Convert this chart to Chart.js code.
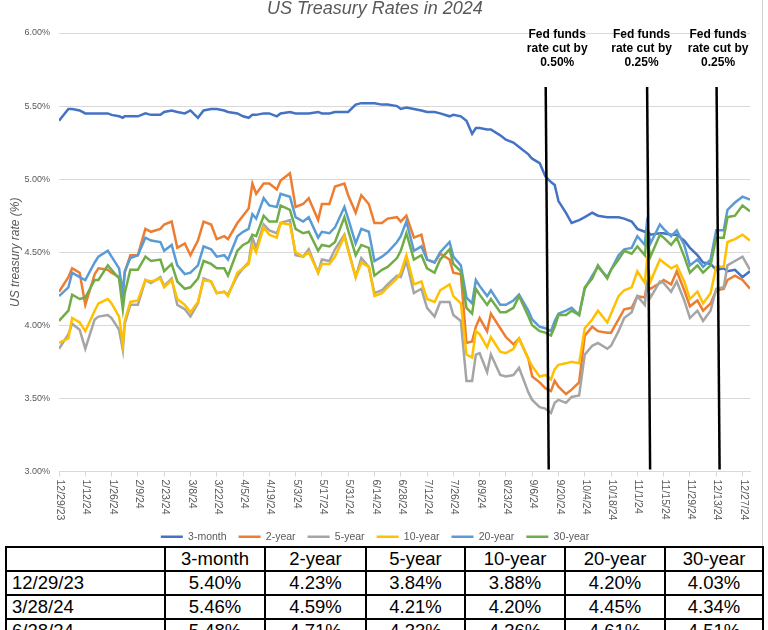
<!DOCTYPE html>
<html>
<head>
<meta charset="utf-8">
<script src="https://cdn.jsdelivr.net/npm/chart.js@4.4.1/dist/chart.umd.min.js"></script>
<style>
  html, body { margin: 0; padding: 0; background: #fff; overflow: hidden; }
  body { width: 768px; height: 630px; position: relative; font-family: "Liberation Sans", Arial, sans-serif; }
  #wrap { position: absolute; left: 0; top: 0; width: 762px; height: 552px; border-right: 1px solid #d0d0d0; }
  #rates { position: absolute; left: 5px; top: 546px; border-collapse: collapse; table-layout: fixed; font-size: 18.5px; color: #000; background: #fff; }
  #rates td { border: 2px solid #000; height: 22px; padding: 0 5px; text-align: center; white-space: nowrap; line-height: 22px; }
  #rates td:first-child { text-align: left; }
</style>
</head>
<body>
<div id="wrap"><canvas id="rateChart"></canvas></div>
<table id="rates"></table>
<script>
  // sample dates (twice a week, plus a few turning points)
  const dates = ['12/29/23','1/3/24','1/5/24','1/9/24','1/12/24','1/17/24','1/19/24','1/24/24','1/26/24','1/30/24',
    '2/1/24','2/2/24','2/5/24','2/9/24','2/13/24','2/16/24','2/21/24','2/23/24','2/27/24','3/1/24',
    '3/5/24','3/8/24','3/12/24','3/15/24','3/19/24','3/22/24','3/26/24','3/28/24','4/2/24','4/5/24',
    '4/8/24','4/10/24','4/12/24','4/16/24','4/19/24','4/23/24','4/25/24','4/30/24','5/3/24','5/7/24',
    '5/10/24','5/15/24','5/17/24','5/21/24','5/24/24','5/29/24','5/31/24','6/4/24','6/7/24','6/11/24',
    '6/14/24','6/18/24','6/21/24','6/26/24','6/28/24','7/1/24','7/5/24','7/9/24','7/12/24','7/16/24',
    '7/19/24','7/24/24','7/26/24','7/30/24','8/2/24','8/5/24','8/7/24','8/9/24','8/13/24','8/15/24',
    '8/20/24','8/23/24','8/27/24','8/30/24','9/4/24','9/6/24','9/10/24','9/13/24','9/16/24','9/18/24',
    '9/20/24','9/24/24','9/27/24','10/1/24','10/4/24','10/8/24','10/11/24','10/16/24','10/18/24','10/22/24',
    '10/25/24','10/29/24','11/1/24','11/5/24','11/6/24','11/8/24','11/13/24','11/15/24','11/19/24','11/22/24',
    '11/26/24','11/29/24','12/3/24','12/6/24','12/10/24','12/13/24','12/17/24','12/19/24','12/23/24','12/27/24',
    '12/31/24'];

  const month3 = [5.40,5.48,5.48,5.47,5.45,5.45,5.45,5.45,5.44,5.43,
    5.42,5.43,5.43,5.43,5.45,5.44,5.44,5.46,5.47,5.46,
    5.45,5.47,5.42,5.47,5.48,5.48,5.47,5.46,5.45,5.43,
    5.42,5.44,5.44,5.45,5.45,5.43,5.45,5.46,5.45,5.45,
    5.45,5.46,5.45,5.45,5.46,5.46,5.46,5.51,5.52,5.52,
    5.52,5.51,5.51,5.50,5.48,5.49,5.48,5.47,5.46,5.46,
    5.45,5.43,5.44,5.43,5.40,5.31,5.35,5.35,5.34,5.34,
    5.30,5.27,5.25,5.22,5.17,5.14,5.11,5.02,4.98,4.96,
    4.85,4.77,4.70,4.72,4.74,4.77,4.75,4.74,4.74,4.74,
    4.73,4.71,4.66,4.64,4.65,4.62,4.63,4.63,4.62,4.62,
    4.58,4.53,4.48,4.43,4.42,4.38,4.39,4.37,4.38,4.33,
    4.37];
  const year2 = [4.23,4.33,4.39,4.36,4.14,4.35,4.39,4.38,4.36,4.33,
    4.21,4.36,4.48,4.48,4.66,4.64,4.66,4.69,4.71,4.53,
    4.56,4.48,4.58,4.71,4.69,4.59,4.61,4.59,4.70,4.75,
    4.80,4.97,4.90,4.97,4.97,4.93,4.99,5.04,4.81,4.83,
    4.87,4.72,4.83,4.83,4.95,4.97,4.89,4.77,4.89,4.83,
    4.70,4.70,4.73,4.74,4.71,4.75,4.60,4.62,4.45,4.43,
    4.49,4.45,4.36,4.35,3.88,3.89,3.99,4.05,3.96,4.08,
    3.98,3.92,3.87,3.91,3.77,3.65,3.61,3.57,3.55,3.62,
    3.58,3.53,3.56,3.61,3.93,3.99,3.96,3.95,3.95,4.04,
    4.11,4.12,4.20,4.19,4.27,4.25,4.29,4.31,4.28,4.37,
    4.24,4.13,4.17,4.10,4.15,4.24,4.25,4.31,4.34,4.31,
    4.25];
  const year5 = [3.84,3.94,4.01,3.97,3.84,4.04,4.06,4.07,4.05,3.97,
    3.83,4.01,4.14,4.14,4.31,4.29,4.33,4.27,4.32,4.14,
    4.11,4.06,4.15,4.32,4.30,4.22,4.23,4.21,4.34,4.39,
    4.43,4.60,4.53,4.69,4.65,4.63,4.70,4.72,4.48,4.47,
    4.52,4.36,4.45,4.44,4.52,4.62,4.52,4.33,4.46,4.40,
    4.22,4.24,4.28,4.34,4.33,4.44,4.22,4.25,4.12,4.06,
    4.16,4.16,4.07,4.03,3.62,3.62,3.80,3.81,3.68,3.80,
    3.66,3.65,3.66,3.71,3.54,3.49,3.44,3.43,3.40,3.47,
    3.49,3.47,3.51,3.52,3.80,3.86,3.88,3.84,3.86,3.96,
    4.05,4.09,4.20,4.14,4.28,4.19,4.30,4.29,4.23,4.30,
    4.17,4.05,4.10,4.03,4.10,4.25,4.26,4.41,4.44,4.47,
    4.38];
  const year10 = [3.88,3.91,4.05,4.02,3.96,4.10,4.15,4.18,4.15,4.06,
    3.87,4.03,4.16,4.17,4.31,4.30,4.32,4.26,4.31,4.18,
    4.14,4.09,4.16,4.31,4.30,4.22,4.23,4.20,4.36,4.39,
    4.42,4.55,4.50,4.67,4.62,4.60,4.70,4.69,4.50,4.47,
    4.50,4.36,4.42,4.42,4.47,4.61,4.51,4.33,4.43,4.40,
    4.20,4.22,4.26,4.32,4.36,4.48,4.28,4.30,4.18,4.16,
    4.24,4.28,4.20,4.15,3.80,3.78,3.96,3.94,3.85,3.92,
    3.82,3.81,3.84,3.91,3.77,3.72,3.65,3.66,3.63,3.70,
    3.73,3.74,3.75,3.74,3.98,4.04,4.10,4.02,4.08,4.20,
    4.24,4.26,4.37,4.29,4.43,4.30,4.45,4.43,4.39,4.41,
    4.30,4.18,4.23,4.15,4.22,4.40,4.40,4.57,4.59,4.62,
    4.58];
  const year20 = [4.20,4.26,4.36,4.33,4.31,4.43,4.47,4.51,4.47,4.39,
    4.22,4.37,4.46,4.48,4.60,4.58,4.57,4.51,4.55,4.41,
    4.35,4.36,4.41,4.54,4.52,4.47,4.48,4.45,4.61,4.64,
    4.66,4.76,4.73,4.87,4.82,4.81,4.90,4.88,4.74,4.71,
    4.74,4.60,4.64,4.63,4.67,4.81,4.73,4.56,4.66,4.64,
    4.44,4.47,4.50,4.57,4.61,4.71,4.51,4.54,4.45,4.43,
    4.50,4.57,4.47,4.41,4.19,4.15,4.31,4.27,4.20,4.24,
    4.14,4.14,4.17,4.21,4.10,4.04,3.99,3.98,3.96,4.03,
    4.08,4.10,4.12,4.07,4.25,4.34,4.40,4.33,4.38,4.48,
    4.52,4.53,4.61,4.55,4.69,4.56,4.69,4.66,4.61,4.65,
    4.55,4.41,4.45,4.40,4.45,4.65,4.65,4.79,4.84,4.88,
    4.86];
  const year30 = [4.03,4.10,4.21,4.18,4.19,4.31,4.31,4.41,4.38,4.32,
    4.11,4.22,4.38,4.38,4.47,4.44,4.45,4.37,4.42,4.30,
    4.25,4.26,4.32,4.44,4.42,4.39,4.39,4.34,4.51,4.55,
    4.57,4.62,4.61,4.75,4.71,4.71,4.82,4.79,4.66,4.63,
    4.64,4.51,4.55,4.54,4.57,4.74,4.65,4.48,4.55,4.53,
    4.34,4.38,4.40,4.46,4.51,4.63,4.45,4.48,4.39,4.36,
    4.45,4.52,4.42,4.37,4.12,4.08,4.25,4.21,4.14,4.18,
    4.09,4.09,4.12,4.20,4.06,4.00,3.96,3.95,3.93,3.99,
    4.07,4.07,4.10,4.07,4.26,4.32,4.41,4.32,4.38,4.45,
    4.51,4.49,4.54,4.48,4.60,4.47,4.62,4.60,4.55,4.60,
    4.47,4.36,4.41,4.36,4.41,4.60,4.60,4.74,4.75,4.82,
    4.78];

  const seriesNames = ['3-month', '2-year', '5-year', '10-year', '20-year', '30-year'];
  const seriesValues = [month3, year2, year5, year10, year20, year30];
  const seriesColors = ['#4472C4', '#ED7D31', '#A5A5A5', '#FFC000', '#5B9BD5', '#70AD47'];

  // where the hand-drawn rate cut markers sit on the date axis
  const cutDates = ['9/14/24', '11/7/24', '12/14/24'];
  const cutNotes = [['Fed funds', 'rate cut by', '0.50%'], ['Fed funds', 'rate cut by', '0.25%'], ['Fed funds', 'rate cut by', '0.25%']];
  const cutNoteShift = [10, -7, 0];

  const tableHead = ['', '3-month', '2-year', '5-year', '10-year', '20-year', '30-year'];
  const tableRows = [
    ['12/29/23', '5.40%', '4.23%', '3.84%', '3.88%', '4.20%', '4.03%'],
    ['3/28/24', '5.46%', '4.59%', '4.21%', '4.20%', '4.45%', '4.34%'],
    ['6/28/24', '5.48%', '4.71%', '4.33%', '4.36%', '4.61%', '4.51%']
  ];
  const colWidths = [159, 100, 101, 99, 100, 100, 98];

  const start = Date.UTC(2023, 11, 29);
  function dayOf(s) {
    const [m, d, y] = s.split('/').map(Number);
    return Math.round((Date.UTC(2000 + y, m - 1, d) - start) / 86400000);
  }
  function dateLabel(n) {
    const t = new Date(start + n * 86400000);
    return (t.getUTCMonth() + 1) + '/' + t.getUTCDate() + '/' + String(t.getUTCFullYear()).slice(2);
  }

  const FONT = '"Liberation Sans", Arial, sans-serif';
  Chart.defaults.font.family = FONT;

  const overlay = {
    id: 'overlay',
    afterDatasetsDraw(chart) {
      const { ctx, scales: { x }, chartArea } = chart;
      ctx.save();
      ctx.strokeStyle = '#000';
      ctx.lineWidth = 2.5;
      ctx.fillStyle = '#000';
      ctx.font = 'bold 12px ' + FONT;
      ctx.textAlign = 'center';
      ctx.textBaseline = 'middle';
      cutDates.forEach((d, i) => {
        const px = x.getPixelForValue(dayOf(d));
        ctx.beginPath();
        ctx.moveTo(px - 1.5, chartArea.top + 54);
        ctx.lineTo(px + 1.5, chartArea.bottom - 2);
        ctx.stroke();
        cutNotes[i].forEach((line, j) => {
          ctx.fillText(line, px + cutNoteShift[i], chartArea.top + 2 + j * 14);
        });
      });
      ctx.restore();
    },
    afterDraw(chart) {
      const { ctx, scales: { x }, chartArea } = chart;
      ctx.save();
      ctx.fillStyle = '#595959';
      ctx.font = '10.5px ' + FONT;
      ctx.textAlign = 'left';
      ctx.textBaseline = 'middle';
      x.ticks.forEach(t => {
        const px = x.getPixelForValue(t.value);
        ctx.save();
        ctx.translate(px + 1, chartArea.bottom + 8);
        ctx.rotate(Math.PI / 2);
        ctx.fillText(dateLabel(t.value), 0, 0);
        ctx.restore();
      });
      ctx.restore();
    }
  };

  new Chart(document.getElementById('rateChart'), {
    type: 'line',
    data: {
      datasets: seriesNames.map((name, i) => ({
        label: name,
        data: dates.map((d, k) => ({ x: dayOf(d), y: seriesValues[i][k] })),
        borderColor: seriesColors[i],
        backgroundColor: seriesColors[i],
        borderWidth: 2.5,
        pointRadius: 0,
        tension: 0,
        order: seriesNames.length - 1 - i
      }))
    },
    options: {
      responsive: true,
      maintainAspectRatio: false,
      animation: false,
      layout: { padding: { left: 0, right: 12, top: 0, bottom: 0 } },
      plugins: {
        title: {
          display: true,
          text: 'US Treasury Rates in 2024',
          color: '#595959',
          font: { size: 18, style: 'italic', weight: 'normal', lineHeight: 1 },
          padding: { top: 0, bottom: 15 }
        },
        legend: {
          position: 'bottom',
          labels: {
            usePointStyle: true,
            pointStyle: 'line',
            pointStyleWidth: 22,
            color: '#595959',
            font: { size: 10.5 },
            padding: 12,
            sort: (a, b) => a.datasetIndex - b.datasetIndex
          }
        },
        tooltip: { enabled: false }
      },
      scales: {
        x: {
          type: 'linear',
          min: 0,
          max: 368,
          ticks: {
            stepSize: 14,
            includeBounds: false,
            autoSkip: false,
            minRotation: 90,
            maxRotation: 90,
            color: 'rgba(0,0,0,0)',
            callback: v => dateLabel(v)
          },
          grid: { drawOnChartArea: false, tickLength: 5, color: '#d9d9d9' },
          border: { color: '#d9d9d9' },
          afterFit: s => { s.height = 48; }
        },
        y: {
          min: 3,
          max: 6,
          ticks: { stepSize: 0.5, color: '#595959', font: { size: 9 }, padding: 9, callback: v => v.toFixed(2) + '%' },
          grid: { color: '#d9d9d9', drawTicks: false },
          border: { display: false },
          title: { display: true, text: 'US treasury rate (%)', color: '#595959', font: { size: 12, style: 'italic' }, padding: { top: 8, bottom: 0 } },
          afterFit: s => { s.width = 59; }
        }
      }
    },
    plugins: [overlay]
  });

  // summary table under the chart
  const table = document.getElementById('rates');
  const cg = document.createElement('colgroup');
  colWidths.forEach(w => { const c = document.createElement('col'); c.style.width = w + 'px'; cg.appendChild(c); });
  table.appendChild(cg);
  [tableHead].concat(tableRows).forEach(row => {
    const tr = document.createElement('tr');
    row.forEach(cell => { const td = document.createElement('td'); td.textContent = cell; tr.appendChild(td); });
    table.appendChild(tr);
  });
</script>
</body>
</html>
